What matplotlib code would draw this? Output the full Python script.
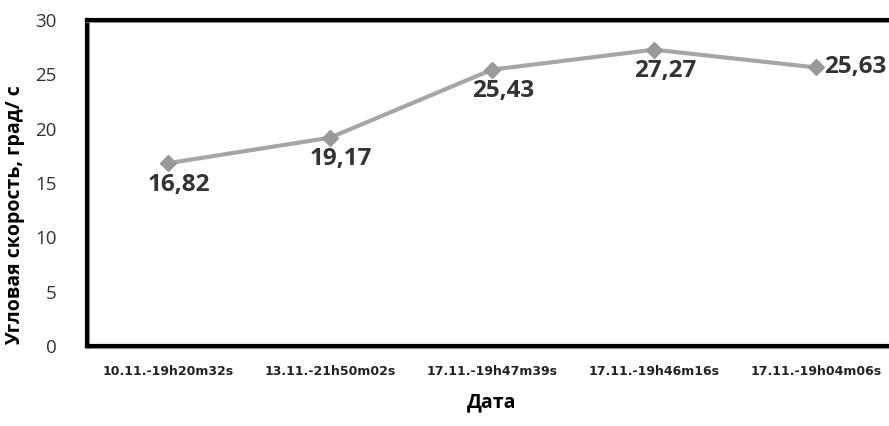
import matplotlib
matplotlib.use("Agg")
import matplotlib.pyplot as plt
import matplotlib.patheffects as pe

categories = ["10.11.-19h20m32s", "13.11.-21h50m02s", "17.11.-19h47m39s",
              "17.11.-19h46m16s", "17.11.-19h04m06s"]
values = [16.82, 19.17, 25.43, 27.27, 25.63]
value_labels = ["16,82", "19,17", "25,43", "27,27", "25,63"]
yticks = [0, 5, 10, 15, 20, 25, 30]

plt.rcParams['font.family'] = ['Open Sans', 'DejaVu Sans']

fig = plt.figure(figsize=(8.89, 4.26), dpi=100)
W, H = 889, 426
ax = fig.add_axes([87 / W, 1 - 346 / H, (897 - 87) / W, (346 - 20) / H])

x = list(range(len(categories)))
ax.plot(x, values, color="#a6a6a6", lw=3, marker="D", markersize=8,
        markerfacecolor="#999999", markeredgecolor="#999999", zorder=3)

for i, (v, lab) in enumerate(zip(values, value_labels)):
    if i == len(values) - 1:
        ax.annotate(lab, (i, v), xytext=(6, 0), textcoords="offset points",
                    ha="left", va="center", fontsize=17.5, fontweight="bold",
                    color="#333333")
    else:
        ax.annotate(lab, (i, v), xytext=(8, -7), textcoords="offset points",
                    ha="center", va="top", fontsize=17.5, fontweight="bold",
                    color="#333333")

ax.set_xlim(-0.5, len(categories) - 0.5)
ax.set_ylim(0, 30)
ax.set_yticks(yticks)
ax.set_yticklabels([str(t) for t in yticks], fontsize=13.5, color="#333333")
ax.set_xticks(x)
ax.set_xticklabels(categories, fontsize=9, fontweight="bold", color="#222222",
                   family=['Liberation Sans Narrow', 'DejaVu Sans'])
ax.tick_params(axis="both", length=0)
ax.tick_params(axis="y", pad=22)
ax.tick_params(axis="x", pad=14)

for s in ax.spines.values():
    s.set_linewidth(3)
    s.set_color("black")
    s.set_path_effects([pe.SimpleLineShadow(offset=(1, -1), shadow_color="#888888", alpha=0.8), pe.Normal()])

ax.set_ylabel("Угловая скорость, град/ с", fontsize=14, fontweight="bold")
ax.yaxis.set_label_coords(-0.077, 0.40)
ax.set_xlabel("Дата", fontsize=14, fontweight="bold", labelpad=10)

fig.savefig("out.png", dpi=100, facecolor="white")
